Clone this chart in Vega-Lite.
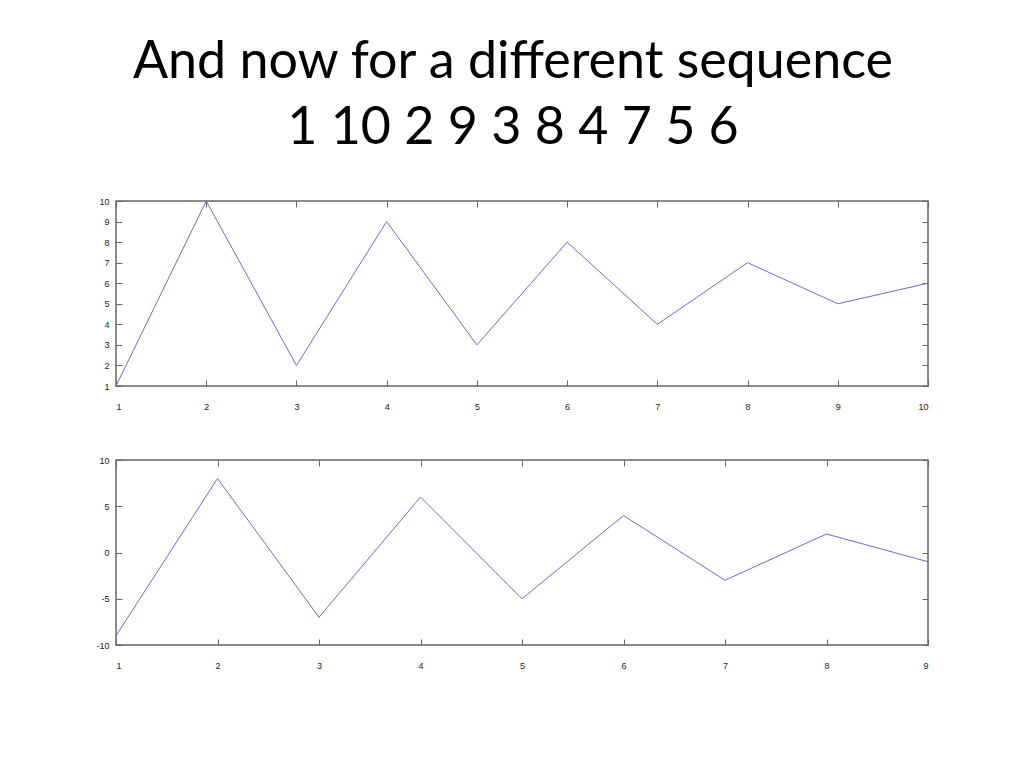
{
  "$schema": "https://vega.github.io/schema/vega-lite/v6.json",
  "background": "white",
  "padding": {"left": 95, "top": 36, "right": 80, "bottom": 20},
  "title": {
    "text": ["And now for a different sequence", "1 10 2 9 3 8 4 7 5 6"],
    "font": "Lato",
    "fontSize": 52,
    "fontWeight": "normal",
    "color": "black",
    "lineHeight": 66,
    "anchor": "middle",
    "offset": 41
  },
  "datasets": {
    "seq": [
      {"i": 1, "v": 1}, {"i": 2, "v": 10}, {"i": 3, "v": 2}, {"i": 4, "v": 9}, {"i": 5, "v": 3},
      {"i": 6, "v": 8}, {"i": 7, "v": 4}, {"i": 8, "v": 7}, {"i": 9, "v": 5}, {"i": 10, "v": 6}
    ],
    "diff": [
      {"i": 1, "d": -9}, {"i": 2, "d": 8}, {"i": 3, "d": -7}, {"i": 4, "d": 6}, {"i": 5, "d": -5},
      {"i": 6, "d": 4}, {"i": 7, "d": -3}, {"i": 8, "d": 2}, {"i": 9, "d": -1}
    ]
  },
  "config": {
    "view": {"stroke": "#666", "strokeWidth": 1.5},
    "axis": {
      "title": null,
      "grid": false,
      "domain": false,
      "tickColor": "#666",
      "tickSize": -6,
      "labelFont": "Liberation Sans",
      "labelFontSize": 9,
      "labelColor": "#222",
      "labelExpr": "toString(datum.value)"
    },
    "concat": {"spacing": 43}
  },
  "vconcat": [
    {
      "width": 812,
      "height": 185,
      "data": {"name": "seq"},
      "resolve": {"axis": {"x": "independent", "y": "independent"}},
      "layer": [
        {
          "mark": {"type": "line", "color": "#6b6bd6", "strokeWidth": 1},
          "encoding": {
            "x": {"field": "i", "type": "quantitative", "scale": {"domain": [1, 10], "nice": false},
                  "axis": {"values": [1,2,3,4,5,6,7,8,9,10], "labelPadding": 22, "orient": "bottom"}},
            "y": {"field": "v", "type": "quantitative", "scale": {"domain": [1, 10], "nice": false, "zero": false},
                  "axis": {"values": [1,2,3,4,5,6,7,8,9,10], "labelPadding": 13, "orient": "left"}}
          }
        },
        {
          "mark": {"type": "line", "opacity": 0},
          "encoding": {
            "x": {"field": "i", "type": "quantitative",
                  "axis": {"values": [1,2,3,4,5,6,7,8,9,10], "labels": false, "orient": "top"}},
            "y": {"field": "v", "type": "quantitative",
                  "axis": {"values": [1,2,3,4,5,6,7,8,9,10], "labels": false, "orient": "right"}}
          }
        }
      ]
    },
    {
      "width": 812,
      "height": 185,
      "data": {"name": "diff"},
      "resolve": {"axis": {"x": "independent", "y": "independent"}},
      "layer": [
        {
          "mark": {"type": "line", "color": "#6b6bd6", "strokeWidth": 1},
          "encoding": {
            "x": {"field": "i", "type": "quantitative", "scale": {"domain": [1, 9], "nice": false},
                  "axis": {"values": [1,2,3,4,5,6,7,8,9], "labelPadding": 22, "orient": "bottom"}},
            "y": {"field": "d", "type": "quantitative", "scale": {"domain": [-10, 10], "nice": false},
                  "axis": {"values": [-10,-5,0,5,10], "labelPadding": 13, "orient": "left"}}
          }
        },
        {
          "mark": {"type": "line", "opacity": 0},
          "encoding": {
            "x": {"field": "i", "type": "quantitative",
                  "axis": {"values": [1,2,3,4,5,6,7,8,9], "labels": false, "orient": "top"}},
            "y": {"field": "d", "type": "quantitative",
                  "axis": {"values": [-10,-5,0,5,10], "labels": false, "orient": "right"}}
          }
        }
      ]
    }
  ]
}
